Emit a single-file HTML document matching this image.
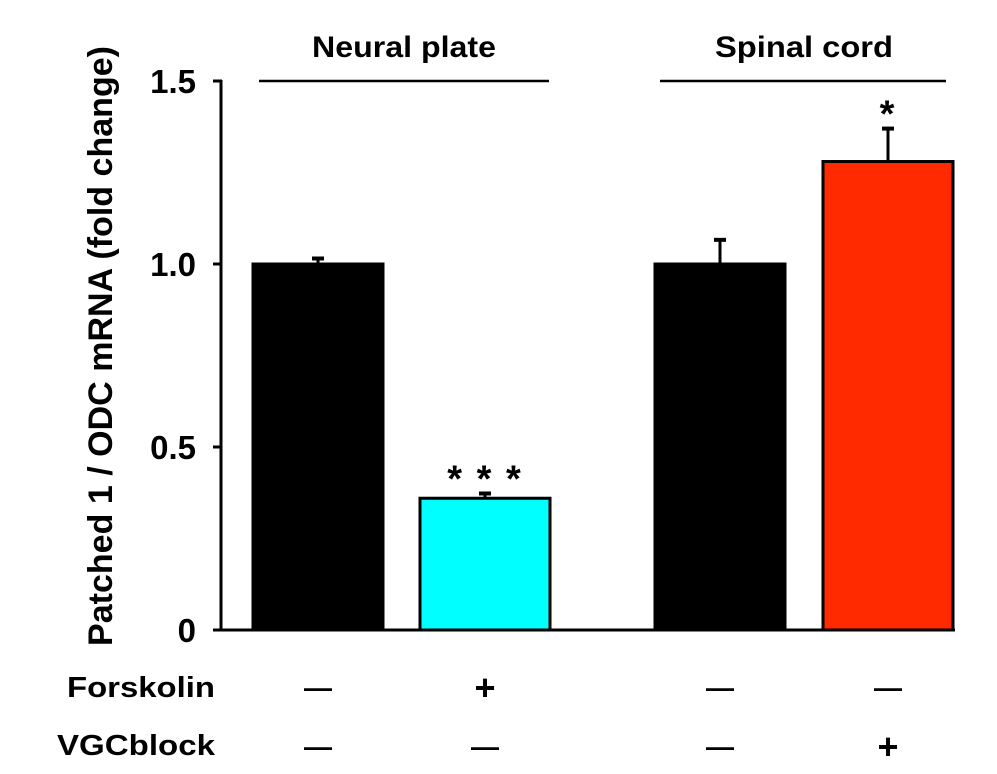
<!DOCTYPE html>
<html><head><meta charset="utf-8"><style>
html,body{margin:0;padding:0;background:#fff;}
svg{display:block;font-family:"Liberation Sans",Arial,sans-serif;font-weight:bold;}
</style></head><body>
<svg id="chart" width="997" height="774" viewBox="0 0 997 774" xmlns="http://www.w3.org/2000/svg"></svg>
<script>
const categories = ["np-control", "np-forskolin", "sc-control", "sc-vgcblock"];
const values = [1.0, 0.36, 1.0, 1.28];
const errors = [0.015, 0.013, 0.066, 0.09];
const colors = ["#000000", "#00ffff", "#000000", "#ff2a00"];
const sigLabels = ["", "* * *", "", "*"];
const yTicks = [0, 0.5, 1.0, 1.5];
const yTickLabels = ["0", "0.5", "1.0", "1.5"];
const forskolin = ["—", "+", "—", "—"];
const vgcblock = ["—", "—", "—", "+"];

const NS = "http://www.w3.org/2000/svg";
const svg = document.getElementById("chart");
const y0 = 630, yTop = 81, yMax = 1.5;
function yScale(v){ return y0 - (v / yMax) * (y0 - yTop); }
const barLefts = [253, 420, 655, 823];
const barW = 130;
function xCenter(i){ return barLefts[i] + barW / 2; }
function el(tag, attrs, text){
  const e = document.createElementNS(NS, tag);
  for (const k in attrs) e.setAttribute(k, attrs[k]);
  if (text !== undefined) e.textContent = text;
  svg.appendChild(e);
  return e;
}

// axes
let ax = el("line", {x1:221, y1:yTop - 1, x2:221, y2:y0, stroke:"#000", "stroke-width":3});


let xa = el("line", {x1:213, y1:y0, x2:955, y2:y0, stroke:"#000", "stroke-width":3});


yTicks.forEach((t, i) => {
  const y = yScale(t);
  const tk = el("line", {x1:213, y1:y, x2:222, y2:y, stroke:"#000", "stroke-width":3});
  
  
  const lb = el("text", {x:196, y:y + 12, "text-anchor":"end", "font-size":33}, yTickLabels[i]);
  
  
});
const yt = el("text", {x:0, y:0, transform:"translate(112,346) rotate(-90)", "text-anchor":"middle", "font-size":34, textLength:600, lengthAdjust:"spacingAndGlyphs"}, "Patched 1 / ODC mRNA (fold change)");



// group headers
[["Neural plate", 259, 549, 404, 184], ["Spinal cord", 660, 946, 804, 178]].forEach(g => {
  const l = el("line", {x1:g[1], y1:81, x2:g[2], y2:81, stroke:"#000", "stroke-width":2.5});
  
  
  const t = el("text", {x:g[3], y:57, "text-anchor":"middle", "font-size":30, textLength:g[4], lengthAdjust:"spacingAndGlyphs"}, g[0]);
  
  
});

// bars
categories.forEach((c, i) => {
  const top = yScale(values[i]);
  const b = el("rect", {x:barLefts[i], y:top, width:barW, height:y0 - top, fill:colors[i], stroke:"#000", "stroke-width":3});
  
  
  const et = yScale(values[i] + errors[i]);
  const e1 = el("line", {x1:xCenter(i), y1:top, x2:xCenter(i), y2:et, stroke:"#000", "stroke-width":3});
  
  
  const e2 = el("line", {x1:xCenter(i) - 6, y1:et, x2:xCenter(i) + 6, y2:et, stroke:"#000", "stroke-width":4});
  
  
  if (sigLabels[i]) {
    const s = el("text", {x:xCenter(i), y:et - 2, "text-anchor":"middle", "font-size":38, "letter-spacing":"2"}, sigLabels[i]);
    
    
  }
  const f = el("text", {x:xCenter(i), y:forskolin[i] === "+" ? 700 : 697, "text-anchor":"middle", "font-size":forskolin[i] === "+" ? 36 : 28}, forskolin[i]);
  
  
  const v = el("text", {x:xCenter(i), y:vgcblock[i] === "+" ? 759 : 756, "text-anchor":"middle", "font-size":vgcblock[i] === "+" ? 36 : 28}, vgcblock[i]);
  
  
});
const rf = el("text", {x:67, y:697, "font-size":29, textLength:148, lengthAdjust:"spacingAndGlyphs"}, "Forskolin");


const rv = el("text", {x:57, y:755, "font-size":29, textLength:158, lengthAdjust:"spacingAndGlyphs"}, "VGCblock");


</script>
</body></html>
